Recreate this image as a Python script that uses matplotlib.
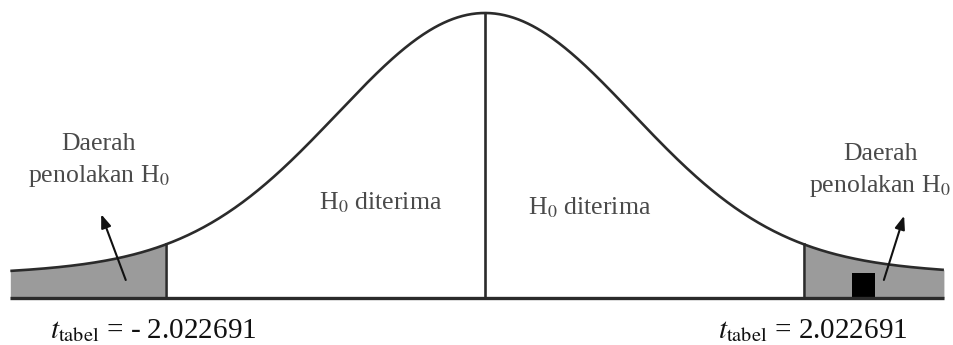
import matplotlib
matplotlib.use('Agg')
import numpy as np
import matplotlib.pyplot as plt
from matplotlib.patches import Rectangle

plt.rcParams['font.family'] = ['Liberation Serif', 'DejaVu Serif']
plt.rcParams['mathtext.fontset'] = 'stix'

# nilai kritis dan bentuk kurva
t_crit = 2.022691
x_left, x_right = -3.01, 2.91
core_weight, core_sigma = 0.88, 0.93
tail_weight, tail_sigma = 0.12, 4.0

region_labels = ['Daerah\npenolakan H$_0$', 'Daerah\npenolakan H$_0$']
accept_labels = ['H$_0$ diterima', 'H$_0$ diterima']
t_labels = [r'$t_{\mathrm{tabel}}$ = - 2.022691', r'$t_{\mathrm{tabel}}$ = 2.022691']


def density(x):
    return (core_weight * np.exp(-x**2 / (2 * core_sigma**2))
            + tail_weight * np.exp(-x**2 / (2 * tail_sigma**2)))


fig = plt.figure(figsize=(9.54, 3.45), dpi=100)
ax = fig.add_axes([0, 0, 1, 1])
ax.set_xlim(-485 / 157.7, (954 - 485) / 157.7)
ax.set_ylim(-47 / 285, 298 / 285)
ax.axis('off')

xs = np.linspace(x_left, x_right, 600)
ys = density(xs)

# daerah penolakan
grey = '#9b9b9b'
xl = xs[xs <= -t_crit]
ax.fill_between(xl, 0, density(xl), color=grey, lw=0)
xr = xs[xs >= t_crit]
ax.fill_between(xr, 0, density(xr), color=grey, lw=0)

line_col = '#2b2b2b'
ax.plot(xs, ys, color=line_col, lw=1.9, solid_capstyle='butt')
ax.plot([x_left, x_right], [0, 0], color=line_col, lw=2.4, solid_capstyle='butt')
for xc in (-t_crit, t_crit):
    ax.plot([xc, xc], [0, density(xc)], color=line_col, lw=1.9)
ax.plot([0, 0], [0, density(0)], color=line_col, lw=1.9)

# kotak hitam kecil
ax.add_patch(Rectangle((2.327, 0), 0.146, 0.088, color='black', lw=0))

# panah
arrow_kw = dict(arrowstyle='-|>,head_length=0.8,head_width=0.3', color='#111111', lw=1.5)
ax.annotate('', xy=(-2.44, 0.303), xytext=(-2.272, 0.054), arrowprops=arrow_kw)
ax.annotate('', xy=(2.663, 0.298), xytext=(2.524, 0.054), arrowprops=arrow_kw)

txt_col = '#4a4a4a'
ax.text(-2.448, 0.407, region_labels[0], ha='center', va='baseline', fontsize=18.5,
        color=txt_col, linespacing=1.42)
ax.text(2.505, 0.372, region_labels[1], ha='center', va='baseline', fontsize=18.5,
        color=txt_col, linespacing=1.42)
ax.text(-0.66, 0.312, accept_labels[0], ha='center', va='baseline', fontsize=18.5, color=txt_col)
ax.text(0.666, 0.295, accept_labels[1], ha='center', va='baseline', fontsize=18.5, color=txt_col)

ax.text(-2.758, -0.14, t_labels[0], ha='left', va='baseline', fontsize=21, color='#111111')
ax.text(1.478, -0.14, t_labels[1], ha='left', va='baseline', fontsize=21, color='#111111')

fig.savefig('out.png', dpi=100, facecolor='white')
